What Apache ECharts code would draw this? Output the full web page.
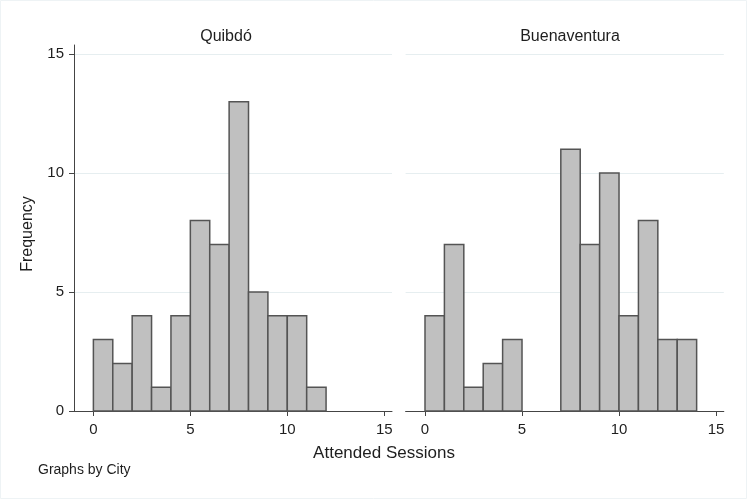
<!DOCTYPE html>
<html>
<head>
<meta charset="utf-8">
<script src="https://cdn.jsdelivr.net/npm/echarts@6/dist/echarts.min.js"></script>
<style>html,body{margin:0;padding:0;background:#fff}#c{width:750px;height:500px}</style>
</head>
<body>
<div id="c"></div>
<script>
// Data: bins of width 1 starting at given session value
const binStarts = [0,1,2,3,4,5,6,7,8,9,10,11,12,13];
const quibdoFreq = [3,2,4,1,4,8,7,13,5,4,4,1,0,0];
const buenaFreq  = [4,7,1,2,3,0,0,11,7,10,4,8,3,3];
const panelTitles = ['Quibdó','Buenaventura'];
const xTicks = [0,5,10,15];
const yTicks = [0,5,10,15];

const chart = echarts.init(document.getElementById('c'), null, {renderer:'canvas'});
const font = 'Arial, "Liberation Sans", Helvetica, sans-serif';
const axisColor = '#444';
const textColor = '#1e1e1e';

function toData(freq){ return binStarts.map((s,i)=>[s, freq[i]]).filter(d=>d[1]>0); }

function renderBar(params, api){
  const x0 = api.value(0), v = api.value(1);
  const p0 = api.coord([x0, 0]);
  const p1 = api.coord([x0+1, v]);
  return {
    type:'rect',
    shape:{x:p0[0], y:p1[1], width:p1[0]-p0[0], height:p0[1]-p1[1]},
    style:{fill:'#c0c0c0', stroke:'#545454', lineWidth:1.5}
  };
}

function xAxis(idx){
  return {
    type:'value', gridIndex:idx, min:-1, max:15.4,
    axisLine:{show:true, onZero:false, lineStyle:{color:axisColor, width:1}},
    axisTick:{show:true, inside:false, length:5, customValues:xTicks, lineStyle:{color:axisColor}},
    axisLabel:{show:true, customValues:xTicks, color:textColor, fontSize:15, fontFamily:font, margin:11},
    splitLine:{show:false}
  };
}
function yAxis(idx, showAxis){
  return {
    type:'value', gridIndex:idx, min:0, max:15.38,
    axisLine:{show:showAxis, onZero:false, lineStyle:{color:axisColor, width:1}},
    axisTick:{show:showAxis, inside:false, length:5, customValues:yTicks, lineStyle:{color:axisColor}},
    axisLabel:{show:showAxis, customValues:yTicks, color:textColor, fontSize:15, fontFamily:font, margin:10},
    splitLine:{show:false}
  };
}

function gridLines(xi){
  return {
    type:'line', xAxisIndex:xi, yAxisIndex:xi, silent:true, symbol:'none', data:[], z:0,
    markLine:{silent:true, symbol:'none', label:{show:false}, z:0,
      lineStyle:{color:'#e6eef0', type:'solid', width:1},
      data: yTicks.filter(t=>t>0).map(t=>({yAxis:t}))}
  };
}

chart.setOption({
  animation:false,
  backgroundColor:'#ffffff',
  title:[
    {text:panelTitles[0], left:221, top:24, textAlign:'center', textStyle:{fontSize:16, fontWeight:'normal', color:textColor, fontFamily:font}},
    {text:panelTitles[1], left:565, top:24, textAlign:'center', textStyle:{fontSize:16, fontWeight:'normal', color:textColor, fontFamily:font}}
  ],
  grid:[
    {left:74, width:318, top:45, height:366},
    {left:405.6, width:318.2, top:45, height:366}
  ],
  xAxis:[xAxis(0), xAxis(1)],
  yAxis:[yAxis(0,true), yAxis(1,false)],
  series:[
    gridLines(0), gridLines(1),
    {type:'custom', xAxisIndex:0, yAxisIndex:0, renderItem:renderBar, encode:{x:0,y:1}, data:toData(quibdoFreq), z:5},
    {type:'custom', xAxisIndex:1, yAxisIndex:1, renderItem:renderBar, encode:{x:0,y:1}, data:toData(buenaFreq), z:5}
  ],
  graphic:[
    {type:'text', x:384, y:453, style:{text:'Attended Sessions', fontSize:17, fill:textColor, fontFamily:font, align:'center', verticalAlign:'middle'}},
    {type:'text', x:28, y:234, rotation:Math.PI/2, style:{text:'Frequency', fontSize:16, fill:textColor, fontFamily:font, align:'center', verticalAlign:'middle'}},
    {type:'text', x:38, y:470, style:{text:'Graphs by City', fontSize:14, fill:textColor, fontFamily:font, verticalAlign:'middle'}},
    {type:'rect', shape:{x:0.5, y:0.5, width:746, height:498}, style:{fill:'none', stroke:'#eef3f5', lineWidth:1}, silent:true}
  ]
});
</script>
</body>
</html>
